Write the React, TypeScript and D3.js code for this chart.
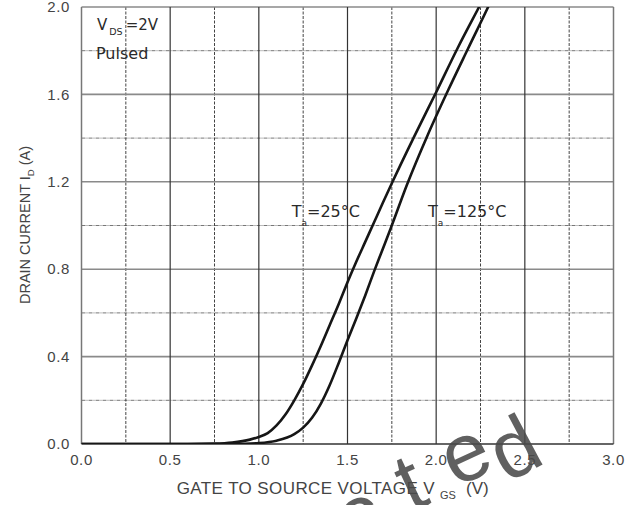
import React from 'react';
import * as d3 from 'd3';

// gate voltage (V) / drain current (A)
const vgs25 = [0, 0.6, 0.75, 0.85, 0.95, 1.0, 1.05, 1.1, 1.15, 1.2, 1.25, 1.3, 1.35, 1.4, 1.45, 1.5, 1.55, 1.6, 1.65, 1.7, 1.754, 1.878, 2.0, 2.12, 2.242, 2.3];
const id25 = [0, 0, 0.002, 0.007, 0.02, 0.032, 0.05, 0.085, 0.135, 0.2, 0.275, 0.36, 0.45, 0.545, 0.64, 0.74, 0.835, 0.925, 1.015, 1.105, 1.2, 1.41, 1.61, 1.81, 2.0, 2.09];

const vgs125 = [0, 0.8, 0.9, 1.0, 1.1, 1.2, 1.25, 1.3, 1.35, 1.4, 1.45, 1.5, 1.55, 1.6, 1.65, 1.7, 1.745, 1.837, 1.95, 2.068, 2.18, 2.293, 2.35];
const id125 = [0, 0, 0.001, 0.004, 0.015, 0.045, 0.075, 0.12, 0.185, 0.27, 0.37, 0.475, 0.575, 0.68, 0.79, 0.895, 0.99, 1.19, 1.41, 1.62, 1.81, 2.0, 2.1];

const xTicks = [0, 0.5, 1.0, 1.5, 2.0, 2.5, 3.0];
const xMinor = [0.25, 0.75, 1.25, 1.75, 2.25, 2.75];
const yTicks = [0, 0.4, 0.8, 1.2, 1.6, 2.0];
const yMinor = [0.2, 0.6, 1.0, 1.4, 1.8];

const W = 640;
const H = 505;
const left = 81.5, right = 613.5, top = 7, bottom = 444;

const tickFont = '"Liberation Sans", Arial, sans-serif';
const noteFont = '"DejaVu Sans", sans-serif';

// watermark glyphs sitting over the lower right of the chart
const mark = [
  { ch: 'c', cx: 362, cy: 522, r: -25 },
  { ch: 't', cx: 410, cy: 482, r: -25 },
  { ch: 'e', cx: 468, cy: 460, r: -25 },
  { ch: 'd', cx: 514, cy: 448, r: -28 },
];

export default function App() {
  const x = d3.scaleLinear().domain([0, 3]).range([left, right]);
  const y = d3.scaleLinear().domain([0, 2]).range([bottom, top]);

  const line = d3
    .line<[number, number]>()
    .x((d) => x(d[0]))
    .y((d) => y(d[1]))
    .curve(d3.curveMonotoneX);

  const pts25 = vgs25.map((v, i) => [v, id25[i]] as [number, number]);
  const pts125 = vgs125.map((v, i) => [v, id125[i]] as [number, number]);

  return (
    <svg width={W} height={H} style={{ position: 'absolute', left: 0, top: 0, background: '#fff' }}>
      <defs>
        <clipPath id="plot">
          <rect x={left} y={top} width={right - left} height={bottom - top} />
        </clipPath>
      </defs>

      {/* minor grid */}
      {yMinor.map((t) => (
        <line key={'ym' + t} x1={left} x2={right} y1={y(t)} y2={y(t)} stroke="#777" strokeWidth={1} strokeDasharray="4 1 1 1" />
      ))}
      {xMinor.map((t) => (
        <line key={'xm' + t} x1={x(t)} x2={x(t)} y1={top} y2={bottom} stroke="#444" strokeWidth={1} strokeDasharray="3 1.5" />
      ))}

      {/* major grid */}
      {yTicks.slice(1).map((t) => (
        <line key={'yg' + t} x1={left} x2={right} y1={y(t)} y2={y(t)} stroke="#8a8a8a" strokeWidth={1.6} />
      ))}
      {xTicks.slice(1, -1).map((t) => (
        <line key={'xg' + t} x1={x(t)} x2={x(t)} y1={top} y2={bottom} stroke="#333" strokeWidth={1.2} />
      ))}
      <line x1={left} x2={left} y1={top} y2={bottom} stroke="#777" strokeWidth={1.5} />
      <line x1={right} x2={right} y1={top} y2={bottom} stroke="#777" strokeWidth={1.5} />
      <line x1={left} x2={right} y1={bottom} y2={bottom} stroke="#333" strokeWidth={1.6} />

      {/* curves */}
      <g clipPath="url(#plot)" fill="none" stroke="#161616" strokeWidth={2.6}>
        <path d={line(pts25) || ''} />
        <path d={line(pts125) || ''} />
      </g>

      {/* tick labels */}
      <g fontFamily={tickFont} fontSize={15} fill="#444" letterSpacing={0.6}>
        {yTicks.map((t) => (
          <text key={'yl' + t} x={70} y={y(t)} dy="0.35em" textAnchor="end">
            {t.toFixed(1)}
          </text>
        ))}
        {xTicks.map((t) => (
          <text key={'xl' + t} x={x(t)} y={465} textAnchor="middle">
            {t.toFixed(1)}
          </text>
        ))}
      </g>

      {/* axis titles */}
      <g fontFamily={tickFont} fill="#444">
        <text x={176.7} y={494} fontSize={17} letterSpacing={0.4}>
          GATE TO SOURCE VOLTAGE V
        </text>
        <text x={440} y={499} fontSize={11}>GS</text>
        <text x={466} y={494} fontSize={17}>(V)</text>
        <text transform="translate(30,225) rotate(-90)" textAnchor="middle" fontSize={14.5}>
          DRAIN CURRENT I<tspan dy={4} fontSize={9.5}>D</tspan>
          <tspan dy={-4}> (A)</tspan>
        </text>
      </g>

      {/* notes */}
      <g fontFamily={noteFont} fill="#2a2a2a">
        <text x={97} y={30} fontSize={15}>
          V<tspan dx={2} dy={5} fontSize={9.5}>DS</tspan>
          <tspan dx={3} dy={-5}>=2V</tspan>
        </text>
        <text x={96} y={59} fontSize={16}>Pulsed</text>
        <text x={291.7} y={216.7} fontSize={16}>
          T<tspan dy={9} fontSize={9}>a</tspan>
          <tspan dy={-9}>=25°C</tspan>
        </text>
        <text x={428} y={216.7} fontSize={16}>
          T<tspan dy={9} fontSize={9}>a</tspan>
          <tspan dy={-9}>=125°C</tspan>
        </text>
      </g>

      {/* watermark */}
      <g fontFamily={tickFont} fontSize={82} fill="#4a4a4a" fillOpacity={0.88} textAnchor="middle">
        {mark.map((m, i) => (
          <text key={i} transform={`translate(${m.cx},${m.cy}) rotate(${m.r})`} dy={m.ch === 'd' || m.ch === 't' ? 28 : 20}>
            {m.ch}
          </text>
        ))}
      </g>
    </svg>
  );
}
